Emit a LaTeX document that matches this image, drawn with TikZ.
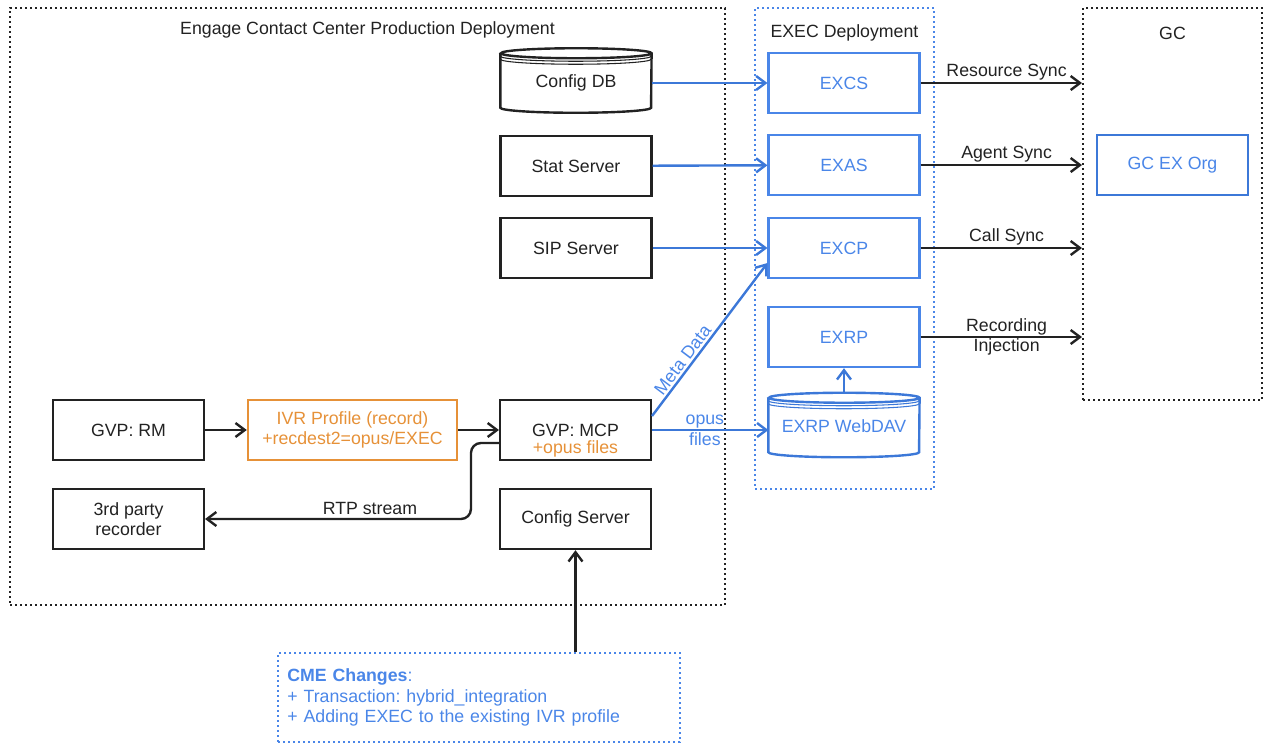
\documentclass[tikz,border=0pt]{standalone}
\usepackage{fontspec}
\setmainfont{Liberation Sans}
\usetikzlibrary{arrows.meta,positioning,calc}
\definecolor{exblue}{HTML}{3C78D8}
\definecolor{extext}{HTML}{4A86E8}
\definecolor{ivrorange}{HTML}{E69138}
\definecolor{inkgray}{HTML}{222222}
\frenchspacing

\begin{document}
\begin{tikzpicture}[
      x=0.75pt, y=-0.75pt,
      font=\fontsize{13.3}{15.5}\selectfont, text=inkgray,
      box/.style={draw=inkgray, line width=1.8pt, minimum width=113pt, minimum height=45pt, align=center},
      exbox/.style={box, draw=extext, text=extext},
      store/.style={minimum width=113pt, minimum height=48pt, align=center, inner sep=0pt, text height=14pt, text depth=3pt},
      grp/.style={line width=1.5pt, dash pattern=on 1.5pt off 2.25pt},
      arr/.style={line width=1.8pt, draw=inkgray, -{Straight Barb[length=7pt,width=10.5pt]}},
      exarr/.style={arr, draw=exblue}
    ]
    \useasboundingbox (0,0) rectangle (1265,744);
    \node[grp, draw=inkgray, minimum width=536.25pt, minimum height=447.75pt,
      label={[anchor=center, yshift=-17.25pt]north:Engage Contact Center Production Deployment}] (engage) at (367.5,306.5) {};
    \node[grp, draw=extext, minimum width=134.25pt, minimum height=360.75pt,
      label={[anchor=center, yshift=-19.5pt]north:EXEC Deployment}] (exec) at (844.5,248.5) {};
    \node[grp, draw=inkgray, minimum width=134.25pt, minimum height=294pt,
      label={[anchor=center, yshift=-19.5pt]north:GC}] (gc) at (1172.5,204) {};

    \node[store] (cfgdb) at (576,80.5) {Config DB};
    \node[box] (stat) at (576,166) {Stat Server};
    \node[box] (sip) at (576,248) {SIP Server};
    \node[exbox] (excs) at (844,83) {EXCS};
    \node[exbox] (exas) at (844,165) {EXAS};
    \node[exbox] (excp) at (844,248) {EXCP};
    \node[exbox] (exrp) at (844,337) {EXRP};
    \node[store, text=extext] (webdav) at (844,425) {EXRP WebDAV};
    \node[box, draw=exblue, text=extext] (gcorg) at (1172.5,165) {GC EX Org};

    \node[box] (rm) at (128.5,430) {GVP: RM};
    \node[box, draw=ivrorange, text=ivrorange, minimum width=156.75pt] (ivr) at (352.5,430) {IVR Profile (record)\\+recdest2=opus/EXEC};
    \node[box, label={[text=ivrorange, anchor=center, yshift=-14.25pt]center:+opus files}] (mcp) at (575.5,430) {GVP: MCP};
    \node[box] (rec3) at (128.5,519) {3rd party\\recorder};
    \node[box] (cfgsrv) at (575.5,519) {Config Server};
    \node[grp, draw=extext, text=extext, align=left, minimum height=66.75pt, inner xsep=7pt, text width=287.5pt] (cme) at (479,697.5)
      {\textbf{CME Changes}:\\+ Transaction: hybrid\_integration\\+ Adding EXEC to the existing IVR profile};

    \foreach \n/\c in {cfgdb/inkgray, webdav/exblue} {
      \draw[\c, line width=1.8pt] ([yshift=-3.75pt]\n.north west) -- ([yshift=3.75pt]\n.south west)
        arc[start angle=180, end angle=360, x radius=56.5pt, y radius=3.75pt] -- ([yshift=-3.75pt]\n.north east)
        arc[start angle=0, end angle=180, x radius=56.5pt, y radius=3.75pt]
        arc[start angle=180, end angle=360, x radius=56.5pt, y radius=3.75pt];
      \draw[\c, line width=0.8pt] ([yshift=-6pt]\n.north west) arc[start angle=180, end angle=360, x radius=56.5pt, y radius=3.75pt];
      \draw[\c, line width=0.8pt] ([yshift=-8.25pt]\n.north west) arc[start angle=180, end angle=360, x radius=56.5pt, y radius=3.75pt];
    }

    \draw[exarr] (cfgdb.east |- excs) -- (excs.west);
    \draw[exarr] (stat) -- (exas);
    \draw[exarr] (sip) -- (excp);
    \draw[exarr] ([yshift=10.5pt]mcp.east) -- ([yshift=-11.25pt]excp.west) node[pos=0.33, above, sloped, inner sep=1.5pt, text=extext] {Meta Data};
    \draw[exarr] (mcp.east) -- (mcp.east -| webdav.west) node[midway, xshift=-4pt, align=center, text=extext] {opus\\files};
    \draw[exarr] (webdav.north) -- (exrp.south);

    \draw[arr] (excs.east) -- (excs.east -| gc.west) node[midway, above, inner sep=1pt, xshift=4pt] {Resource Sync};
    \draw[arr] (exas.east) -- (exas.east -| gc.west) node[midway, above, inner sep=1pt, xshift=4pt] {Agent Sync};
    \draw[arr] (excp.east) -- (excp.east -| gc.west) node[midway, above, inner sep=1pt, xshift=4pt] {Call Sync};
    \draw[arr] (exrp.east) -- (exrp.east -| gc.west) node[midway, xshift=4pt, align=center] {Recording\\Injection};

    \draw[arr] (rm) -- (ivr);
    \draw[arr] (ivr) -- (mcp);
    \draw[arr, rounded corners=7.5pt] ([yshift=-9.75pt]mcp.west) -- ++(-28,0) |- (rec3.east) node[pos=0.69, above, inner sep=2pt] {RTP stream};
    \draw[arr] (cme.north -| cfgsrv.south) -- (cfgsrv.south);
  \end{tikzpicture}
\end{document}
